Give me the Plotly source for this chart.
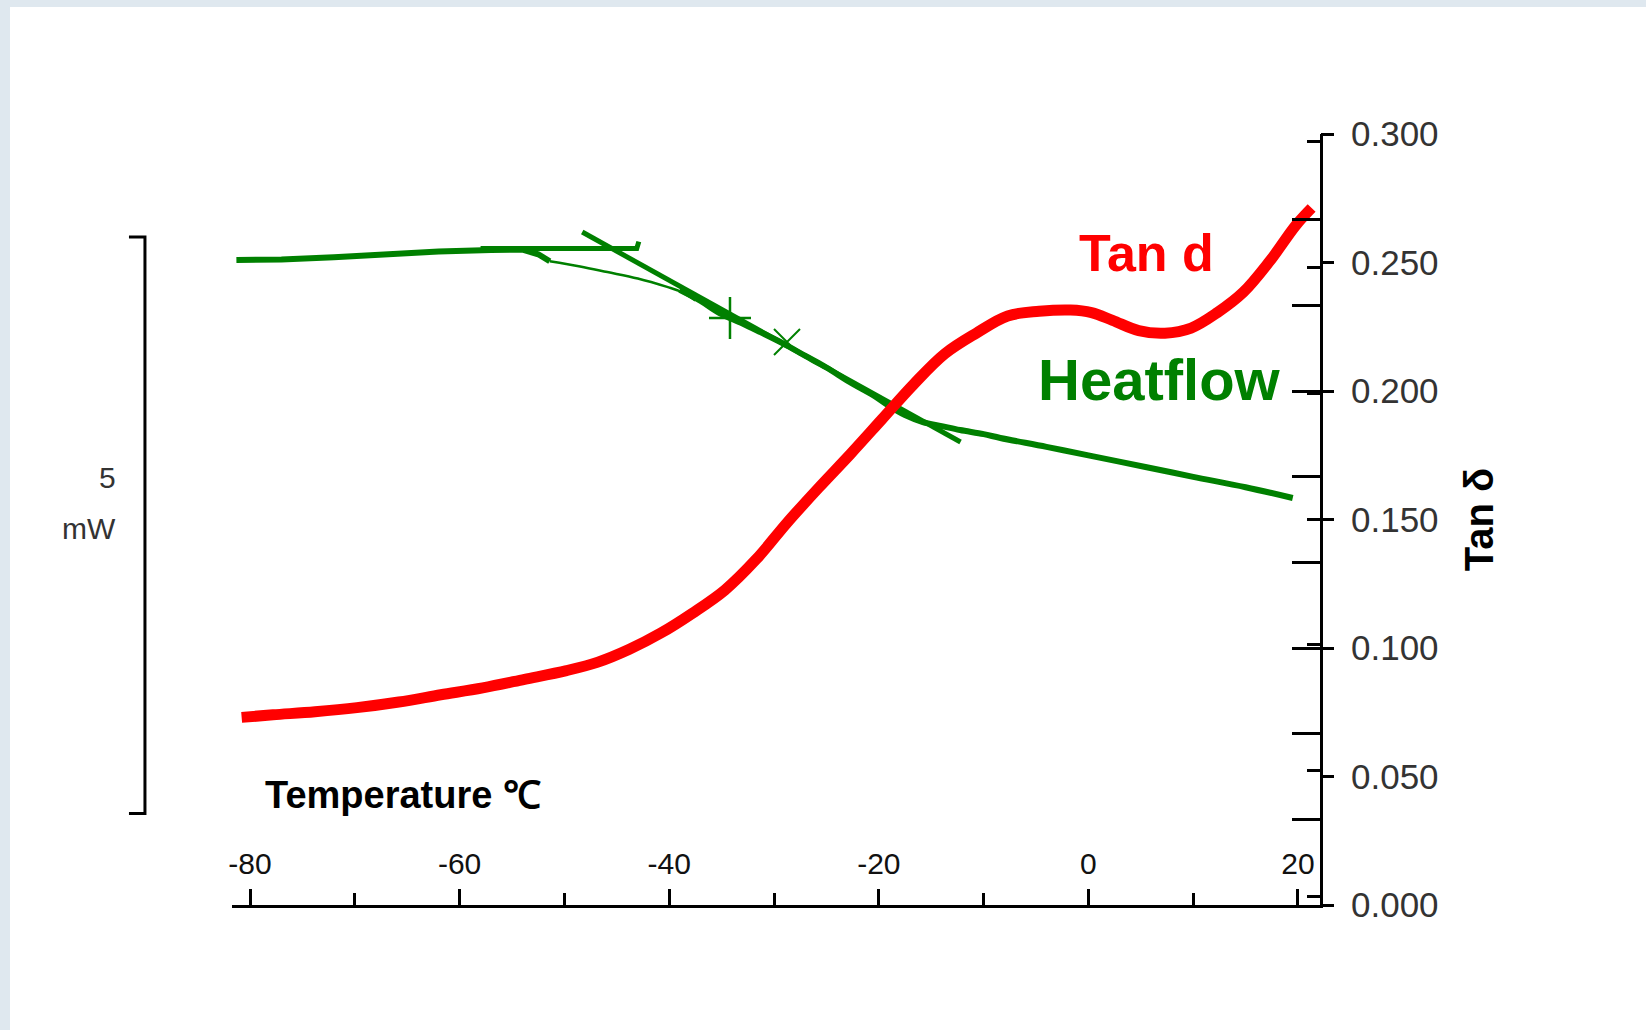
import plotly.graph_objects as go

# ---------------- data ----------------
# Tan delta (right axis)
tan_T = [-80.8, -77.8, -73.8, -69.8, -65.8, -61.8, -57.8, -53.8, -49.8, -46.8, -43.8, -40.8,
         -37.8, -34.7, -31.7, -28.7, -25.7, -22.7, -19.7, -16.7, -13.7, -10.7, -7.7, -4.7,
         -1.7, 0.3, 2.3, 4.8, 7.3, 9.8, 12.3, 14.8, 17.3, 19.8, 21.3]
tan_d = [0.0730, 0.0740, 0.0752, 0.0768, 0.0790, 0.0818, 0.0845, 0.0878, 0.0912, 0.0945, 0.0995, 0.1058,
         0.1135, 0.1225, 0.1345, 0.1490, 0.1625, 0.1755, 0.1890, 0.2025, 0.2145, 0.2225, 0.2292, 0.2310,
         0.2315, 0.2305, 0.2275, 0.2235, 0.2225, 0.2245, 0.2305, 0.2385, 0.2505, 0.2645, 0.2712]

# Heat flow (mW, relative) - baseline part
hf_base_T = [-81.3, -77.0, -72.0, -67.0, -62.0, -57.0, -54.0, -52.5, -51.4]
hf_base = [4.800, 4.805, 4.825, 4.855, 4.875, 4.888, 4.890, 4.850, 4.790]
# Heat flow - transition part (thin)
hf_trans_T = [-51.4, -48.5, -45.9, -43.0, -40.2, -39.0, -37.5]
hf_trans = [4.790, 4.745, 4.696, 4.640, 4.567, 4.530, 4.450]
# Heat flow - after onset
hf_main_T = [-39.0, -37.0, -35.2, -33.0, -31.3, -29.1, -27.0, -25.0, -22.75, -20.5, -19.2, -17.5,
             -15.8, -14.0, -12.25, -10.0, -8.4, -4.0, 0.0, 5.56, 10.0, 15.0, 19.5]
hf_main = [4.541, 4.445, 4.340, 4.250, 4.175, 4.075, 3.968, 3.868, 3.740, 3.625, 3.545, 3.455,
           3.395, 3.360, 3.326, 3.290, 3.257, 3.180, 3.106, 3.003, 2.920, 2.830, 2.736]

# Construction lines for Tg analysis
base_tan_T = [-58.0, -43.1, -42.9]
base_tan = [4.900, 4.900, 4.960]
infl_tan_T = [-48.3, -12.2]
infl_tan = [5.043, 3.222]
onset_T = [-34.2]
onset_hf = [4.297]
mid_T = [-28.76]
mid_hf = [4.089]

# Scale bar (mW)
scale_bar = [0, 5]

x_ticks = [-80, -60, -40, -20, 0, 20]
x_tick_labels = ["-80", "-60", "-40", "-20", "0", "20"]

# ---------------- figure ----------------
W, H = 1636, 1023
ML, MR, MT, MB = 222, 326, 119, 116
PH = H - MT - MB                      # 788
PW = W - ML - MR                      # 1088
d0 = 9 / PH
d1 = 1 - 8 / PH
pxu = (d1 - d0) * PH / 0.3            # px per tan-delta unit
y3_range = [0 - 9 / pxu, 0.3 + 8 / pxu]

GREEN = "#008000"
RED = "#ff0000"
FONT = "Liberation Sans, Arial, sans-serif"

fig = go.Figure()

fig.add_trace(go.Scatter(x=hf_base_T, y=hf_base, mode="lines", yaxis="y",
                         line=dict(color=GREEN, width=6), showlegend=False))
fig.add_trace(go.Scatter(x=hf_trans_T, y=hf_trans, mode="lines", yaxis="y",
                         line=dict(color=GREEN, width=2.5, shape="spline"), showlegend=False))
fig.add_trace(go.Scatter(x=hf_main_T, y=hf_main, mode="lines", yaxis="y",
                         line=dict(color=GREEN, width=6, shape="spline"), showlegend=False))
fig.add_trace(go.Scatter(x=base_tan_T, y=base_tan, mode="lines", yaxis="y",
                         line=dict(color=GREEN, width=5), showlegend=False))
fig.add_trace(go.Scatter(x=infl_tan_T, y=infl_tan, mode="lines", yaxis="y",
                         line=dict(color=GREEN, width=5), showlegend=False))
fig.add_trace(go.Scatter(x=onset_T, y=onset_hf, mode="markers", yaxis="y",
                         marker=dict(symbol="cross-thin", size=30, line=dict(color=GREEN, width=2.5)),
                         showlegend=False))
fig.add_trace(go.Scatter(x=mid_T, y=mid_hf, mode="markers", yaxis="y",
                         marker=dict(symbol="x-thin", size=26, line=dict(color=GREEN, width=2)),
                         showlegend=False))

fig.add_trace(go.Scatter(x=tan_T, y=tan_d, mode="lines", yaxis="y2",
                         line=dict(color=RED, width=11, shape="spline"), showlegend=False))

# empty traces so that the decorative overlay axes are rendered
for ya in ["y3", "y4"]:
    fig.add_trace(go.Scatter(x=[None], y=[None], yaxis=ya, mode="lines",
                             showlegend=False, hoverinfo="skip"))
fig.add_trace(go.Scatter(x=[None], y=[None], xaxis="x2", yaxis="y", mode="lines",
                         showlegend=False, hoverinfo="skip"))

mw_range = [-(898 - 806.5) / 115.3, (806.5 - 127) / 115.3]
x_range = [-81.72, 22.1]

fig.update_layout(
    width=W, height=H,
    margin=dict(l=ML, r=MR, t=MT, b=MB, pad=0),
    paper_bgcolor="white", plot_bgcolor="white",
    showlegend=False,
    xaxis=dict(range=x_range, domain=[0, 1], anchor="y",
               showline=True, linecolor="black", linewidth=3,
               ticks="inside", ticklen=16, tickwidth=2.5, tickcolor="black",
               tickvals=x_ticks, showticklabels=False,
               showgrid=False, zeroline=False,
               minor=dict(dtick=10, tick0=-80, ticks="inside", ticklen=12,
                          tickwidth=2.5, tickcolor="black", showgrid=False)),
    xaxis2=dict(range=x_range, domain=[0, 1], overlaying="x", anchor="free",
                position=0.0435, side="top",
                showline=False, ticks="", tickvals=x_ticks, ticktext=x_tick_labels,
                tickfont=dict(family=FONT, size=30, color="#111"),
                showgrid=False, zeroline=False),
    yaxis=dict(range=mw_range, domain=[d0, d1], visible=False, anchor="x"),
    yaxis2=dict(range=[0, 0.3], domain=[d0, d1], overlaying="y", side="right", anchor="x",
                showline=False, ticks="outside", ticklen=13, tickwidth=2.5, tickcolor="black",
                dtick=0.05, tick0=0, tickformat=".3f",
                tickfont=dict(family=FONT, size=35, color="#333"),
                ticklabelstandoff=10,
                title=dict(text="<b>Tan δ</b>", font=dict(family=FONT, size=40, color="black"),
                           standoff=27),
                showgrid=False, zeroline=False),
    yaxis3=dict(range=y3_range, domain=[0, 1], overlaying="y", side="right", anchor="x",
                showline=True, linecolor="black", linewidth=3,
                ticks="inside", ticklen=13, tickwidth=2.5, tickcolor="black",
                dtick=0.05, tick0=0, showticklabels=False, showgrid=False, zeroline=False),
    yaxis4=dict(range=[0, 9], domain=[d0, d1], overlaying="y", side="right", anchor="x",
                showline=False, ticks="inside", ticklen=28, tickwidth=2.5, tickcolor="black",
                dtick=1, tick0=0, showticklabels=False, showgrid=False, zeroline=False),
)

# scale bar bracket (5 mW)
xb, xc = -0.0800, -0.0947
fig.add_shape(type="path", xref="paper", yref="y",
              path=f"M {xc},{scale_bar[1]} L {xb},{scale_bar[1]} L {xb},{scale_bar[0]} L {xc},{scale_bar[0]}",
              line=dict(color="black", width=3))

fig.add_annotation(text="5", xref="paper", yref="y", x=-0.1051, y=2.91,
                   xanchor="right", yanchor="middle", showarrow=False,
                   font=dict(family=FONT, size=30, color="#333"))
fig.add_annotation(text="mW", xref="paper", yref="y", x=-0.1051, y=2.476,
                   xanchor="right", yanchor="middle", showarrow=False,
                   font=dict(family=FONT, size=30, color="#333"))

fig.add_annotation(text="<b>Tan d</b>", xref="x", yref="y2", x=5.59, y=0.2537,
                   showarrow=False, font=dict(family=FONT, size=52, color=RED))
fig.add_annotation(text="<b>Heatflow</b>", xref="x", yref="y2", x=6.74, y=0.2043,
                   showarrow=False, font=dict(family=FONT, size=58, color=GREEN))
fig.add_annotation(text="<b>Temperature ℃</b>", xref="x", yref="y2", x=-78.76, y=0.0428,
                   xanchor="left", yanchor="middle", showarrow=False,
                   font=dict(family=FONT, size=38, color="black"))

post = ("document.body.style.margin='7px 0 0 10px';"
        "document.body.style.background='#dfe8ef';"
        "document.documentElement.style.overflow='hidden';"
        "document.body.style.overflow='hidden';")
fig.write_html("out.html", post_script=post)
